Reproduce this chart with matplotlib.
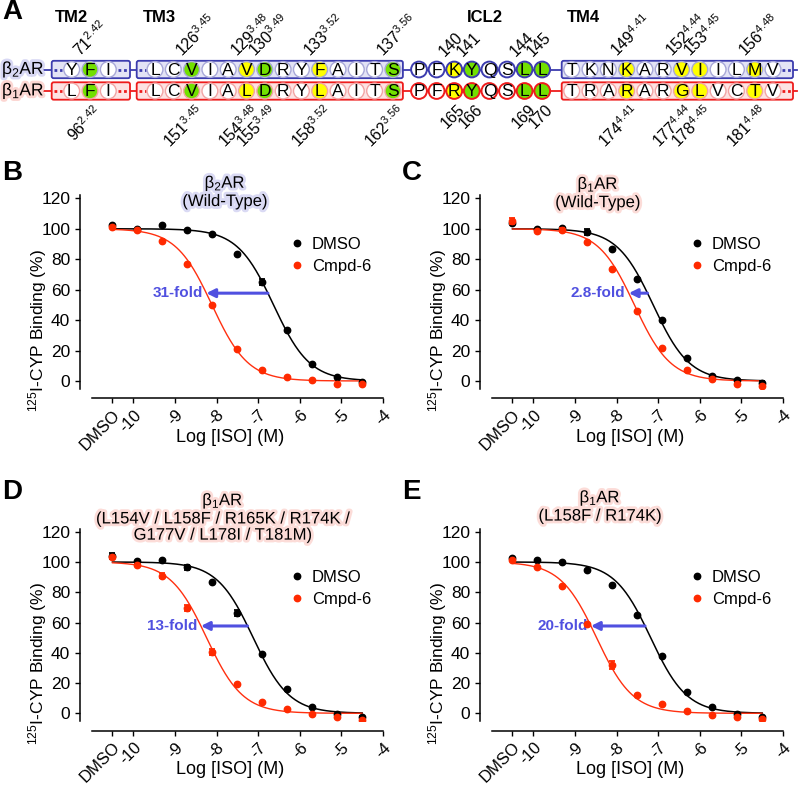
import numpy as np
import matplotlib
matplotlib.use('Agg')
import matplotlib.pyplot as plt
import matplotlib.patheffects as pe
from matplotlib.patches import Circle, FancyBboxPatch
from matplotlib.lines import Line2D

plt.rcParams['font.family'] = 'Liberation Sans'
plt.rcParams['mathtext.fontset'] = 'custom'
plt.rcParams['mathtext.rm'] = 'Liberation Sans'
plt.rcParams['mathtext.it'] = 'Liberation Sans:italic'
plt.rcParams['mathtext.bf'] = 'Liberation Sans:bold'

# ---------------- panel A: sequence alignment ----------------
seg_names = ['TM2', 'TM3', 'ICL2', 'TM4']
b2_seq = ['YFI', 'LCVIAVDRYFAITS', 'PFKYQSLL', 'TKNKARVIILMV']
b1_seq = ['LFI', 'LCVIALDRYLAITS', 'PFRYQSLL', 'TRARARGLVCTV']
seg_colors = ['wgw', 'wwgwwygwwywwwg', 'wwygwwgg', 'wwwywwyywwyw']

# numbered residues: (segment, index)
num_pos = [(0, 1), (1, 2), (1, 5), (1, 6), (1, 9), (1, 13), (2, 2), (2, 3),
           (2, 6), (2, 7), (3, 3), (3, 6), (3, 7), (3, 10)]
b2_num = ['71', '126', '129', '130', '133', '137', '140', '141', '144', '145',
          '149', '152', '153', '156']
b1_num = ['96', '151', '154', '155', '158', '162', '165', '166', '169', '170',
          '174', '177', '178', '181']
bw_num = ['2.42', '3.45', '3.48', '3.49', '3.52', '3.56', '', '', '', '',
          '4.41', '4.44', '4.45', '4.48']

# ---------------- panels B-E: binding data ----------------
log_iso = [-10.5, -9.9, -9.3, -8.7, -8.1, -7.5, -6.9, -6.3, -5.7, -5.1, -4.5]
tick_pos = [-10.5, -10, -9, -8, -7, -6, -5, -4]
tick_labels = ['DMSO', '-10', '-9', '-8', '-7', '-6', '-5', '-4']

b_dmso = [102.7, 100.0, 102.3, 99.0, 96.3, 83.2, 65.0, 33.3, 11.2, 2.6, -0.7]
b_cmpd = [101.0, 99.5, 92.0, 76.6, 49.9, 21.0, 7.4, 2.4, 0.4, -2.0, -2.0]
b_dmso_err = [0, 0, 0, 0, 0, 0, 2.2, 0, 0, 0, 0]
b_cmpd_err = [0, 0, 0, 0, 0, 0, 0, 0, 0, 0, 0]

c_dmso = [104.0, 100.0, 100.3, 97.9, 86.9, 67.2, 40.3, 15.1, 3.5, 0.7, -1.3]
c_cmpd = [105.0, 98.8, 99.0, 91.3, 73.4, 45.8, 21.9, 7.4, 1.5, -2.2, -3.5]
c_dmso_err = [0, 0, 0, 2.0, 0, 0, 0, 0, 0, 0, 1.0]
c_cmpd_err = [2.0, 0, 1.2, 0, 0, 0, 0, 0, 0, 0, 0]

d_dmso = [104.0, 100.8, 101.3, 96.5, 86.7, 66.3, 39.2, 15.9, 4.2, -0.7, -2.6]
d_cmpd = [103.0, 98.2, 90.9, 69.8, 40.7, 19.4, 7.3, 2.6, -0.7, -2.6, -4.2]
d_dmso_err = [2.0, 0, 0, 1.8, 0, 2.0, 0, 0, 0, 0, 0.8]
d_cmpd_err = [0, 0, 1.8, 2.0, 2.0, 0, 0, 0, 0, 0, 0]

e_dmso = [102.8, 101.5, 100.0, 94.9, 84.7, 64.7, 37.9, 14.0, 3.9, -0.7, -2.2]
e_cmpd = [101.1, 96.5, 84.3, 59.3, 32.0, 12.4, 5.9, 1.5, -1.1, -2.6, -3.7]
e_dmso_err = [0, 0, 0, 0, 0, 0, 0, 0, 0, 0, 0]
e_cmpd_err = [0, 0, 0, 0, 2.5, 0, 0, 0, 0, 0, 0]

# fitted log IC50 (one-site, top 100, bottom 0)
fit_dmso = [-6.63, -7.12, -7.12, -7.18]
fit_cmpd = [-8.11, -7.57, -8.24, -8.48]
fold_labels = ['31-fold', '2.8-fold', '13-fold', '20-fold']
arrow_level = 57.7

title_top = ['β$_2$AR', 'β$_1$AR', 'β$_1$AR', 'β$_1$AR']
title_sub = ['(Wild-Type)', '(Wild-Type)',
             '(L154V / L158F / R165K / R174K /\nG177V / L178I / T181M)',
             '(L158F / R174K)']

BLUE = '#3c3cae'
RED = '#ee1c1c'
GREEN = '#72e000'
YELLOW = '#ffff00'
PT_RED = '#ff2a00'
ARROW = '#5050e0'

fig = plt.figure(figsize=(8, 7.9), dpi=100)

# ---- panel A ----
axa = fig.add_axes([0, 1 - 140 / 790, 1, 140 / 790])
axa.set_xlim(0, 800)
axa.set_ylim(140, 0)
axa.axis('off')

seg_x0 = [71.7, 155, 419, 571.7]
seg_step = [18.3, 18.3, 17.6, 18.3]
pad_l = [20, 18.3, 0, 10]
pad_r = [21.7, 10, 0, 20]
boxed = [True, True, False, True]
row_y = [69.5, 91.0]
rad = 7.9
fill_map = {'w': 'white', 'g': GREEN, 'y': YELLOW}

rows = [(b2_seq, BLUE, '#e3e3f5', '#a8a8d8', '#d8d8f4'),
        (b1_seq, RED, '#fde3e3', '#f2a4a4', '#fcd6d2')]
for r, (seqs, edge, boxfill, lightedge, halo) in enumerate(rows):
    y = row_y[r]
    axa.plot([42, 797], [y, y], color=edge, lw=1.3, zorder=1)
    for s, seq in enumerate(seqs):
        xs = [seg_x0[s] + i * seg_step[s] for i in range(len(seq))]
        if boxed[s]:
            left = xs[0] - pad_l[s]
            right = xs[-1] + pad_r[s]
            axa.add_patch(FancyBboxPatch((left, y - 8.7), right - left, 17.4,
                                         boxstyle='round,pad=0,rounding_size=2',
                                         fc=boxfill, ec=edge, lw=1.3, zorder=2))
            if pad_l[s] > 15:
                axa.plot([left + 2, xs[0] - rad - 1.5], [y, y], color=edge, lw=2,
                         ls=(0, (1, 1)), zorder=3)
            if pad_r[s] > 15:
                axa.plot([xs[-1] + rad + 1.5, right - 2], [y, y], color=edge, lw=2,
                         ls=(0, (1, 1)), zorder=3)
        for i, (aa, c) in enumerate(zip(seq, seg_colors[s])):
            ec = lightedge if boxed[s] else edge
            lw = 1.0 if boxed[s] else 1.4
            axa.add_patch(Circle((xs[i], y), rad, fc=fill_map[c], ec=ec, lw=lw,
                                 zorder=4))
            axa.text(xs[i], y + 0.6, aa, ha='center', va='center', fontsize=12.5,
                     zorder=5)
    lab = 'β$_2$AR' if r == 0 else 'β$_1$AR'
    axa.text(2, y, lab, ha='left', va='center', fontsize=12.5,
             path_effects=[pe.withStroke(linewidth=4, foreground=halo)])

header_x = [55, 143, 467, 567]
for name, hx in zip(seg_names, header_x):
    axa.text(hx, 18, name, ha='left', va='center', fontsize=12, fontweight='bold')

for (s, i), n2, n1, bw in zip(num_pos, b2_num, b1_num, bw_num):
    cx = seg_x0[s] + i * seg_step[s]
    t2 = rf'${n2}^{{{bw}}}$' if bw else n2
    t1 = rf'${n1}^{{{bw}}}$' if bw else n1
    axa.text(cx - 7, row_y[0] - 10, t2, rotation=45, rotation_mode='anchor',
             ha='left', va='bottom', fontsize=11.5)
    axa.text(cx + 3, row_y[1] + 11, t1, rotation=45, rotation_mode='anchor',
             ha='right', va='top', fontsize=11.5)

# ---- panels B-E ----
panels = [
    (b_dmso, b_cmpd, b_dmso_err, b_cmpd_err),
    (c_dmso, c_cmpd, c_dmso_err, c_cmpd_err),
    (d_dmso, d_cmpd, d_dmso_err, d_cmpd_err),
    (e_dmso, e_cmpd, e_dmso_err, e_cmpd_err),
]
ax_rects = [[0.1146, 0.5081, 0.3641, 0.2447], [0.6146, 0.5081, 0.3641, 0.2447],
            [0.1146, 0.0875, 0.3641, 0.2433], [0.6146, 0.0875, 0.3641, 0.2433]]
title_xy = [(0.458, 1.02), (0.365, 1.014), (0.45, 1.061), (0.372, 1.118)]
halos = ['#dadaf4', '#fcdcd8', '#fcdcd8', '#fcdcd8']
letters = ['B', 'C', 'D', 'E']
letter_xy = [(2, 173), (402, 173), (2, 492), (402, 492)]

x_fit = np.linspace(log_iso[0], log_iso[-1], 300)


def sigmoid(x, c):
    return 100.0 / (1 + 10 ** (x - c))


for k, (yd, yc, ed, ec) in enumerate(panels):
    ax = fig.add_axes(ax_rects[k])
    for sp in ['top', 'right']:
        ax.spines[sp].set_visible(False)
    ax.spines['left'].set_position(('outward', 8.5))
    ax.spines['bottom'].set_position(('outward', 7))
    ax.spines['left'].set_linewidth(1.1)
    ax.spines['bottom'].set_linewidth(1.1)

    ax.plot(x_fit, sigmoid(x_fit, fit_dmso[k]), color='black', lw=1.1, zorder=2)
    ax.plot(x_fit, sigmoid(x_fit, fit_cmpd[k]), color='#ff3010', lw=1.0, zorder=2)
    for ys, es, col in [(yd, ed, 'black'), (yc, ec, PT_RED)]:
        ax.plot(log_iso, ys, 'o', color=col, ms=4.6, zorder=4)
        xs = [x for x, e in zip(log_iso, es) if e > 0]
        yy = [y for y, e in zip(ys, es) if e > 0]
        ee = [e for e in es if e > 0]
        if xs:
            ax.errorbar(xs, yy, yerr=ee, fmt='none', ecolor=col, elinewidth=1.3,
                        capsize=2.5, capthick=1.3, zorder=4)

    # fold-shift arrow between the curves
    off = np.log10(100.0 / arrow_level - 1)
    x_tail = fit_dmso[k] + off
    x_head = fit_cmpd[k] + off
    ax.annotate('', xy=(x_head, arrow_level), xytext=(x_tail, arrow_level),
                arrowprops=dict(arrowstyle='-|>,head_length=0.5,head_width=0.25',
                                color=ARROW, lw=2.2, shrinkA=0, shrinkB=0), zorder=5)
    ax.text(x_head - 0.08, arrow_level, fold_labels[k], ha='right', va='center',
            color=ARROW, fontsize=11, fontweight='bold')

    ax.set_xlim(-11, -4)
    ax.set_ylim(-5, 122)
    ax.set_yticks([0, 20, 40, 60, 80, 100, 120])
    ax.set_xticks(tick_pos)
    ax.set_xticklabels(tick_labels)
    ax.tick_params(axis='x', labelsize=12, length=3.5, width=1, pad=3)
    ax.tick_params(axis='y', labelsize=12.5, length=3.5, width=1)
    plt.setp(ax.get_xticklabels(), rotation=45, ha='right', va='top',
             rotation_mode='anchor')
    ax.set_ylabel(r'$^{125}$I-CYP Binding (%)', fontsize=12.5)
    ax.yaxis.set_label_coords(-0.145, 0.3)
    ax.set_xlabel('Log [ISO] (M)', fontsize=13)
    ax.xaxis.set_label_coords(0.475, -0.21)

    handles = [Line2D([], [], marker='o', ls='', color='black', ms=4.6),
               Line2D([], [], marker='o', ls='', color=PT_RED, ms=4.6)]
    ax.legend(handles, ['DMSO', 'Cmpd-6'], loc='center left',
              bbox_to_anchor=(0.63, 0.69), frameon=False, fontsize=12,
              handlelength=0.8, handletextpad=0.5, labelspacing=0.4)

    tx, ty = title_xy[k]
    ax.text(tx, ty, title_top[k] + '\n' + title_sub[k], transform=ax.transAxes,
            ha='center', va='center', fontsize=12, linespacing=1.1,
            path_effects=[pe.withStroke(linewidth=4, foreground=halos[k])])

    lx, ly = letter_xy[k]
    fig.text(lx / 800, 1 - ly / 790, letters[k], ha='left', va='center',
             fontsize=20, fontweight='bold')

fig.text(2 / 800, 1 - 12 / 790, 'A', ha='left', va='center', fontsize=20,
         fontweight='bold')

fig.savefig('out.png', dpi=100)
